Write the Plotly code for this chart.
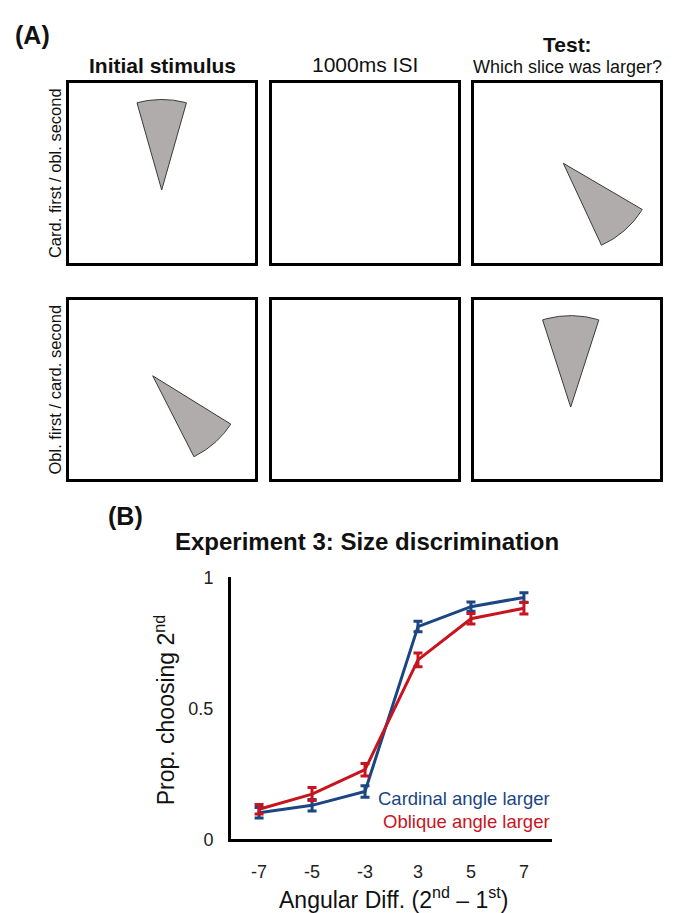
import numpy as np
import plotly.graph_objects as go

W, H = 678, 913
FONT = "Liberation Sans, Arial, sans-serif"

# ---------------- data: panel B ----------------
angle_labels = ["-7", "-5", "-3", "3", "5", "7"]
cardinal_mean = [0.102, 0.130, 0.183, 0.812, 0.888, 0.923]
cardinal_err = [0.020, 0.022, 0.022, 0.020, 0.018, 0.018]
oblique_mean = [0.115, 0.173, 0.266, 0.685, 0.842, 0.882]
oblique_err = [0.018, 0.025, 0.024, 0.026, 0.020, 0.022]
y_tick_vals = [0, 0.5, 1]
y_tick_text = ["0", "0.5", "1"]

# ---------------- data: panel A (stimulus wedges) ----------------
col_titles = ["Initial stimulus", "1000ms ISI", "Which slice was larger?"]
row_titles = ["Card. first / obl. second", "Obl. first / card. second"]
wedge_row = [0, 0, 1, 1]
wedge_col = [0, 2, 0, 2]
wedge_apex_x = [92.4, 89.3, 83.4, 96.7]
wedge_apex_y = [74.3, 101.6, 106.0, 74.0]
wedge_dir = [90.0, -48.2, -47.9, 90.0]
wedge_span = [31.0, 34.6, 31.2, 35.0]
wedge_radius = [92.5, 92.0, 92.4, 93.5]

BLUE = "#1b4682"
RED = "#c8141e"
GREY = "#b0acab"


def px(x):
    return x / W


def py(y):
    return 1 - y / H


fig = go.Figure()

# ---------------- panel B ----------------
for mean, err, color in [(cardinal_mean, cardinal_err, BLUE), (oblique_mean, oblique_err, RED)]:
    fig.add_trace(go.Scatter(
        x=angle_labels, y=mean, mode="lines",
        line=dict(color=color, width=3),
        error_y=dict(type="data", array=err, visible=True, color=color, thickness=3, width=4.5),
        showlegend=False, xaxis="x", yaxis="y", hoverinfo="skip"))

layout = dict(
    width=W, height=H,
    margin=dict(l=0, r=0, t=0, b=0),
    paper_bgcolor="white", plot_bgcolor="white",
    font=dict(family=FONT, color="#111"),
    showlegend=False,
    xaxis=dict(domain=[px(231), px(552)], type="category", range=[-0.53, 5.53],
               showline=True, linewidth=3, linecolor="black", showgrid=False, zeroline=False,
               ticks="outside", ticklen=14, tickcolor="rgba(0,0,0,0)",
               tickfont=dict(size=18, color="#222"), anchor="y", fixedrange=True),
    yaxis=dict(domain=[py(848), py(580)], range=[0, 1],
               showline=True, linewidth=3, linecolor="black", showgrid=False, zeroline=False,
               tickvals=y_tick_vals, ticktext=y_tick_text,
               ticks="outside", ticklen=11, tickcolor="rgba(0,0,0,0)",
               tickfont=dict(size=18, color="#222"), anchor="x", fixedrange=True),
)

# ---------------- panel A boxes ----------------
box_left = [69.3, 272.0, 474.0]
box_right = [255.0, 457.7, 660.0]
box_top = [75.0, 296.0]
box_bot = [258.3, 480.0]

n = 2
box_axis = {}
for r in range(2):
    for c in range(3):
        xa, ya = f"xaxis{n}", f"yaxis{n}"
        bw = box_right[c] - box_left[c]
        bh = box_bot[r] - box_top[r]
        layout[xa] = dict(domain=[px(box_left[c]), px(box_right[c])], range=[0, bw],
                          showline=True, mirror=True, linewidth=3, linecolor="black",
                          showgrid=False, zeroline=False, showticklabels=False, ticks="",
                          anchor=f"y{n}", fixedrange=True)
        layout[ya] = dict(domain=[py(box_bot[r]), py(box_top[r])], range=[0, bh],
                          showline=True, mirror=True, linewidth=3, linecolor="black",
                          showgrid=False, zeroline=False, showticklabels=False, ticks="",
                          anchor=f"x{n}", fixedrange=True)
        # invisible placeholder so every box (including the empty ISI box) is drawn
        fig.add_trace(go.Scatter(x=[bw / 2], y=[bh / 2], mode="markers", marker=dict(opacity=0),
                                 showlegend=False, xaxis=f"x{n}", yaxis=f"y{n}", hoverinfo="skip"))
        box_axis[(r, c)] = n
        n += 1

for i in range(len(wedge_row)):
    k = box_axis[(wedge_row[i], wedge_col[i])]
    th = np.radians(np.linspace(wedge_dir[i] - wedge_span[i] / 2, wedge_dir[i] + wedge_span[i] / 2, 40))
    xs = [wedge_apex_x[i]] + list(wedge_apex_x[i] + wedge_radius[i] * np.cos(th)) + [wedge_apex_x[i]]
    ys = [wedge_apex_y[i]] + list(wedge_apex_y[i] + wedge_radius[i] * np.sin(th)) + [wedge_apex_y[i]]
    fig.add_trace(go.Scatter(x=xs, y=ys, mode="lines", fill="toself", fillcolor=GREY,
                             line=dict(color="#3a3a3a", width=1), showlegend=False,
                             xaxis=f"x{k}", yaxis=f"y{k}", hoverinfo="skip"))

ann = []


def add_text(text, x, y, size, bold=False, color="#111", angle=0, xanchor="center", yanchor="middle"):
    ann.append(dict(text=f"<b>{text}</b>" if bold else text, x=px(x), y=py(y), xref="paper", yref="paper",
                    showarrow=False, xanchor=xanchor, yanchor=yanchor, textangle=angle,
                    font=dict(size=size, color=color, family=FONT)))


add_text("(A)", 32, 26, 25, bold=True)
add_text(col_titles[0], 162, 57, 21, bold=True)
add_text(col_titles[1], 365, 56, 21)
add_text("Test:", 567, 35, 21, bold=True)
add_text(col_titles[2], 567, 58, 18)
add_text(row_titles[0], 55, 166.7, 16.5, angle=-90)
add_text(row_titles[1], 55, 388, 16.5, angle=-90)

add_text("(B)", 125, 517, 25, bold=True)
add_text("Experiment 3: Size discrimination", 367, 543, 24, bold=True)
add_text("Prop. choosing 2<sup>nd</sup>", 165, 716, 23, angle=-90)
add_text("Angular Diff. (2<sup>nd</sup> \u2013 1<sup>st</sup>)", 393, 925, 23, yanchor="bottom")
add_text("Cardinal angle larger", 552, 806.5, 18.5, color=BLUE, xanchor="right")
add_text("Oblique angle larger", 552, 830, 18.5, color=RED, xanchor="right")

layout["annotations"] = ann
fig.update_layout(**layout)
fig.write_html("out.html")
